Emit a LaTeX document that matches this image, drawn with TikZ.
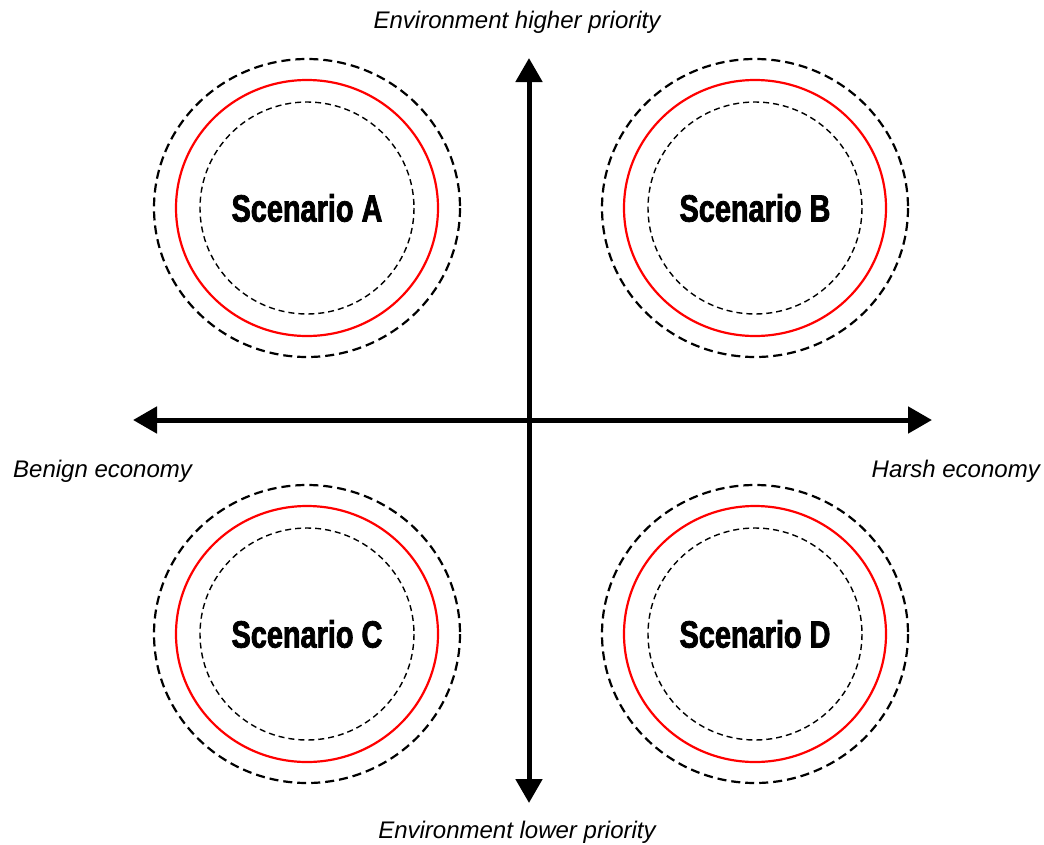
\documentclass[tikz,border=0pt]{standalone}
\usepackage{fontspec}
\setmainfont{Liberation Sans}
\newfontfamily\scenfont[FakeStretch=0.76,FakeBold=2]{Liberation Sans Bold}
\usetikzlibrary{arrows.meta,positioning}

\tikzset{
    axis/.style={line width=5pt,{Triangle[length=24pt,width=26pt]}-{Triangle[length=24pt,width=26pt]}},
    axislabel/.style={font=\fontsize{24}{28}\selectfont\itshape,inner sep=0pt},
    scenario/.style={font=\fontsize{38}{42}\selectfont\scenfont,inner sep=0pt},
    outerring/.style={draw=black,line width=2.2pt,dash pattern=on 9pt off 5pt},
    redring/.style={draw=red,line width=2.2pt},
    innerring/.style={draw=black,line width=1.4pt,dash pattern=on 6pt off 4pt}
}

\begin{document}
\begin{tikzpicture}[x=1pt,y=-1pt]
        \useasboundingbox (0,0) rectangle (1044,844);
        \node[axislabel] (higher) at (517,22)  {Environment higher priority};
        \node[axislabel] (lower)  at (517,832) {Environment lower priority};
        \node[axislabel,anchor=west] (benign) at (13,471)   {Benign economy};
        \node[axislabel,anchor=east] (harsh)  at (1040,471) {Harsh economy};
        \coordinate (axistop)    at (529,58);
        \coordinate (axisbottom) at (529,803);
        \coordinate (axisleft)   at (133,420);
        \coordinate (axisright)  at (932,420);
        \draw[axis] (axisbottom) -- (axistop);
        \draw[axis] (axisleft)   -- (axisright);
        \node[scenario] (scenA) at (307,208) {Scenario A};
        \node[scenario] (scenB) at (755,208) {Scenario B};
        \node[scenario] (scenC) at (307,634) {Scenario C};
        \node[scenario] (scenD) at (755,634) {Scenario D};
        \foreach \s in {scenA,scenB,scenC,scenD} {
            \draw[outerring] (\s.center) ellipse [x radius=153,y radius=149];
            \draw[redring]   (\s.center) ellipse [x radius=131,y radius=128];
            \draw[innerring] (\s.center) ellipse [x radius=107,y radius=106];
        }
\end{tikzpicture}
\end{document}
